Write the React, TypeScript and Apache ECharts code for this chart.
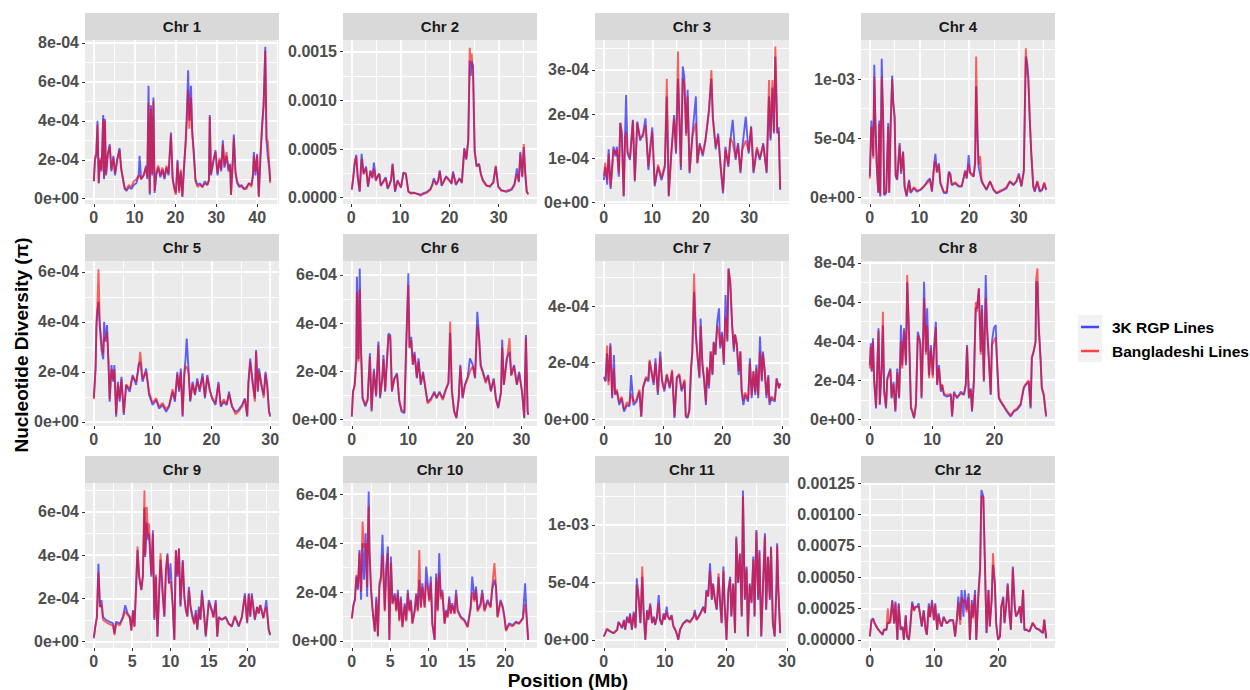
import { useEffect, useRef } from "react";
import * as echarts from "echarts";

// Nucleotide diversity (pi) along each rice chromosome.
// Positions are in Mb; diversity values are in units of 1e-5.

const chr1Pos = [0, 0.3, 0.6, 0.9, 1.2, 1.5, 1.9, 2.3, 2.5, 2.7, 3.0, 3.4, 3.9, 4.3, 4.8, 5.2, 5.7, 6.3, 6.7, 7.2, 7.6, 8.0, 8.6, 9.2, 9.8, 10.4, 11.0, 11.2, 11.6, 12.2, 12.8, 13.1, 13.4, 13.7, 14.0, 14.3, 14.6, 14.9, 15.3, 15.8, 16.3, 16.8, 17.3, 17.8, 18.3, 18.9, 19.3, 19.7, 20.1, 20.5, 20.9, 21.3, 21.7, 22.1, 22.5, 22.8, 23.1, 23.4, 23.8, 24.1, 24.5, 24.9, 25.4, 26.0, 26.6, 27.2, 27.8, 28.2, 28.4, 28.7, 29.2, 29.8, 30.3, 30.8, 31.2, 31.6, 32.0, 32.5, 33.0, 33.4, 33.6, 34.0, 34.3, 34.7, 35.1, 35.6, 36.2, 36.8, 37.4, 38.0, 38.6, 39.0, 39.2, 39.6, 40.0, 40.4, 40.8, 41.2, 41.6, 42.0, 42.3, 42.6, 43.0, 43.2];
const chr1Rgp = [9, 20, 22, 40, 8, 20, 14, 43, 10, 41, 12, 22, 28, 14, 22, 12, 20, 26, 16, 9, 5, 4, 6, 5, 7, 8, 12, 22, 10, 12, 17, 10, 58, 2, 48, 12, 52, 3, 12, 16, 11, 15, 10, 16, 12, 34, 10, 6, 3, 20, 4, 14, 1, 16, 30, 45, 66, 40, 58, 35, 24, 10, 7, 8, 6, 9, 7, 10, 43, 12, 18, 25, 12, 20, 14, 30, 16, 22, 14, 18, 2, 18, 33, 14, 8, 6, 7, 5, 6, 8, 7, 12, 24, 12, 23, 1, 20, 37, 49, 78, 30, 22, 15, 9];
const chr1Bd = [9, 22, 23, 38, 8, 21, 15, 41, 11, 40, 13, 23, 27, 15, 21, 13, 19, 25, 15, 10, 5, 5, 7, 6, 9, 10, 12, 12, 10, 12, 16, 11, 49, 3, 46, 13, 50, 4, 14, 17, 12, 16, 11, 17, 13, 33, 11, 5, 2, 19, 3, 15, 1, 17, 28, 40, 56, 36, 52, 33, 22, 9, 6, 7, 6, 8, 7, 9, 42, 13, 19, 24, 13, 21, 15, 28, 17, 24, 15, 17, 2, 17, 31, 13, 9, 7, 6, 5, 5, 8, 6, 13, 22, 14, 22, 1, 22, 36, 48, 76, 30, 30, 17, 8];

const chr2Pos = [0.1, 0.4, 0.7, 1.0, 1.3, 1.7, 2.1, 2.5, 3.0, 3.4, 3.9, 4.3, 4.6, 5.0, 5.4, 5.7, 6.0, 6.4, 7.0, 7.4, 7.7, 8.1, 8.4, 8.9, 9.4, 10.1, 10.6, 11.1, 11.6, 12.1, 12.8, 13.4, 14.1, 14.8, 15.4, 16.1, 16.5, 16.8, 17.3, 17.7, 18.0, 18.4, 18.7, 19.3, 20.0, 20.4, 20.7, 21.3, 22.0, 22.5, 23.0, 23.4, 23.8, 24.1, 24.3, 24.5, 24.8, 25.1, 25.5, 26.0, 26.4, 26.8, 27.5, 28.2, 28.9, 29.4, 29.9, 30.5, 31.5, 32.6, 33.2, 33.7, 34.1, 34.4, 34.8, 35.1, 35.4, 35.7, 36.0];
const chr2Rgp = [8, 20, 35, 44, 21, 6, 45, 25, 32, 11, 28, 20, 36, 18, 22, 25, 12, 16, 21, 9, 13, 18, 35, 6, 18, 10, 26, 25, 6, 5, 5, 4, 3, 5, 6, 9, 14, 20, 13, 18, 28, 12, 16, 22, 18, 14, 27, 13, 20, 15, 51, 39, 59, 141, 125, 140, 135, 49, 32, 35, 24, 18, 13, 11, 16, 32, 11, 8, 6, 8, 13, 30, 16, 47, 21, 52, 25, 6, 4];
const chr2Bd = [9, 22, 38, 42, 22, 7, 40, 24, 30, 12, 27, 21, 30, 17, 23, 24, 13, 15, 20, 10, 12, 19, 34, 7, 17, 11, 25, 24, 7, 4, 5, 4, 2, 4, 5, 8, 13, 18, 14, 17, 27, 13, 15, 21, 17, 15, 25, 14, 19, 16, 50, 40, 58, 154, 140, 148, 120, 47, 33, 34, 23, 17, 12, 12, 15, 33, 12, 7, 7, 9, 14, 24, 17, 45, 22, 55, 26, 7, 3];

const chr3Pos = [0, 0.3, 0.7, 1.0, 1.4, 1.7, 2.0, 2.4, 2.7, 3.1, 3.4, 3.7, 4.1, 4.4, 4.6, 4.9, 5.4, 6.0, 6.4, 6.9, 7.5, 8.1, 8.6, 9.2, 9.6, 10.0, 10.5, 11.2, 11.9, 12.6, 13.0, 13.4, 13.9, 14.5, 14.9, 15.3, 15.6, 15.9, 16.3, 16.6, 17.0, 17.3, 17.7, 18.3, 19.0, 19.3, 19.8, 20.4, 21.0, 21.7, 22.2, 22.5, 23.1, 23.6, 24.1, 24.6, 25.1, 25.7, 26.1, 26.6, 27.2, 27.7, 28.2, 28.6, 29.3, 29.9, 30.4, 30.9, 31.6, 32.2, 32.9, 33.6, 34.1, 34.4, 34.8, 35.1, 35.4, 35.8, 36.1, 36.4];
const chr3Rgp = [5, 8, 4, 12, 3, 8, 12.6, 10.4, 12.6, 5.8, 18, 16, 1.3, 16, 24.3, 11, 9.6, 18.7, 4.7, 18.3, 14, 15.6, 19, 7.3, 12.6, 17, 3.6, 8, 5, 8, 24, 1.3, 10.4, 19.8, 11, 28, 19.4, 7.3, 30.8, 28.5, 15.6, 25.5, 6.6, 15.6, 24, 8.8, 13.4, 10.4, 14, 21, 28, 19.4, 12, 15.6, 8, 2, 12.6, 8, 14, 18.7, 9.6, 13.4, 6.6, 12.6, 19.4, 11, 17.2, 6.6, 12, 9.6, 13.4, 6.6, 24, 14, 26, 15.6, 33, 15.6, 17, 2.8];
const chr3Bd = [6, 9, 5, 11, 3.5, 7, 12, 11, 12, 6.5, 18, 15, 1.5, 15, 16, 11.5, 10, 18.5, 5, 18, 14.5, 15, 17.5, 8, 12, 16, 4, 8.5, 5.5, 8.5, 28, 1.5, 11, 19, 11.5, 34.2, 18, 8, 28, 27, 15, 24, 7, 15, 18, 9, 13, 11, 14.5, 20.5, 30, 19, 12.5, 15, 8.5, 2.5, 12, 8.5, 14.5, 13.5, 10, 13, 7, 12, 14, 11.5, 17, 7, 12.5, 10, 13, 7, 27.7, 14.5, 27.7, 16, 35.3, 16, 16, 3];

const chr4Pos = [0, 0.3, 0.7, 0.9, 1.1, 1.4, 1.7, 1.9, 2.1, 2.4, 2.7, 2.9, 3.3, 3.7, 3.9, 4.2, 4.5, 4.7, 5.0, 5.2, 5.5, 6.0, 6.3, 6.7, 7.0, 7.4, 7.9, 8.2, 8.9, 9.5, 10.2, 10.9, 11.5, 12.1, 12.5, 13.0, 13.2, 13.5, 13.9, 14.2, 14.9, 15.5, 15.9, 16.2, 16.5, 17.2, 17.9, 18.5, 19.2, 19.5, 19.9, 20.2, 20.5, 20.9, 21.2, 21.4, 21.7, 21.9, 22.2, 22.5, 22.9, 23.5, 24.2, 24.9, 25.5, 26.2, 26.9, 27.5, 28.2, 28.9, 29.5, 30.0, 30.5, 31.0, 31.2, 31.4, 31.7, 31.9, 32.2, 32.5, 32.9, 33.2, 33.7, 34.2, 34.7, 35.1, 35.5];
const chr4Rgp = [18, 65, 35, 112, 68, 26, 4, 65, 1, 117, 63, 2, 4, 63, 4, 63, 103, 82, 68, 18, 15, 46, 20, 39, 9, 1, 15, 4, 8, 5, 6.5, 9.3, 13.5, 16.3, 5, 30, 37, 22, 29, 12, 4, 4, 22, 20.5, 10.7, 12, 9.3, 9.3, 23, 16, 36, 20.5, 20.5, 17.7, 29, 94, 48.6, 26, 20, 13.5, 10.7, 6.5, 13.5, 6.5, 3.7, 5, 6.5, 7.9, 13.5, 10.7, 13.5, 20.5, 9.3, 23, 74, 119, 113, 102, 65, 37, 9.3, 5, 13.5, 5, 6.5, 12, 6.5];
const chr4Bd = [16, 60, 33, 102, 66, 28, 5, 62, 2, 102, 60, 3, 5, 60, 5, 60, 100, 80, 66, 19, 16, 44, 22, 38, 10, 2, 14, 5, 9, 6, 7, 10, 12, 15, 6, 30, 30, 21, 27, 13, 5, 5, 21, 19, 11, 13, 10, 10, 22, 17, 28, 21, 19, 18, 31, 119, 50, 28, 35, 15, 11, 7, 14, 7, 4, 6, 7, 9, 14, 11, 14, 19, 10, 22, 72, 126, 105, 100, 66, 38, 10, 6, 14, 6, 7, 13, 7];

const chr5Pos = [0, 0.3, 0.45, 0.6, 0.8, 1.0, 1.3, 1.6, 1.75, 2.0, 2.25, 2.5, 2.7, 3.0, 3.3, 3.5, 3.8, 4.1, 4.4, 4.7, 5.1, 5.5, 6.1, 6.6, 7.2, 7.6, 7.9, 8.3, 8.9, 9.4, 10.0, 10.6, 11.1, 11.7, 12.3, 12.8, 13.4, 13.8, 14.2, 14.5, 14.8, 15.1, 15.4, 15.6, 15.8, 16.1, 16.4, 16.8, 17.2, 17.6, 18.0, 18.5, 18.9, 19.3, 19.7, 20.1, 20.7, 21.2, 21.6, 22.1, 22.6, 23.0, 23.5, 24.1, 24.6, 25.2, 25.7, 26.1, 26.3, 26.6, 27.0, 27.4, 27.6, 27.9, 28.1, 28.5, 28.9, 29.2, 29.5, 29.8, 30.0];
const chr5Rgp = [9.6, 21, 38, 44, 48, 38.7, 29, 25, 40, 32, 38.7, 22.7, 8, 22.7, 16, 22.7, 2, 16, 8, 18, 2.7, 14.7, 12, 18.7, 14.7, 22.7, 24, 16, 21.3, 10.7, 6.7, 8.7, 5.3, 6.7, 4, 6, 12, 8, 20, 12, 21.3, 2, 20, 25, 33.3, 21.3, 8, 16, 10.7, 17.3, 12, 19.3, 9.3, 18.7, 13.3, 9.3, 6.7, 16, 6, 8, 6.7, 12, 6, 4, 4.7, 6.7, 9.3, 2, 16, 25.3, 16, 9.3, 28.7, 12, 21.3, 14.7, 10.7, 20, 14.7, 4, 2];
const chr5Bd = [9, 22, 40, 46, 61, 40, 32, 27, 33, 34, 36, 24, 9, 21, 17, 21, 3, 15, 9, 17, 3.5, 15, 13, 18, 16, 21, 28, 17, 20, 12, 7.5, 9.5, 6, 7.5, 5, 6.5, 13, 9, 19, 13, 20, 2.5, 19, 22, 22, 20, 8.5, 15, 11, 16, 13, 18, 10, 18, 12.5, 10, 7.5, 15, 6.5, 9, 7, 11, 6.5, 3, 4, 6, 9, 2.5, 15, 24, 16, 8, 28, 12.5, 20, 15, 9.5, 19, 14, 4.5, 2.5];

const chr6Pos = [0, 0.2, 0.5, 0.8, 0.9, 1.2, 1.4, 1.6, 1.9, 2.4, 2.8, 3.2, 3.5, 3.9, 4.3, 4.7, 5.0, 5.4, 5.6, 5.9, 6.2, 6.5, 6.8, 7.1, 7.5, 8.0, 8.4, 8.8, 9.3, 9.6, 10.0, 10.2, 10.5, 10.8, 11.1, 11.5, 11.8, 12.2, 12.6, 13.0, 13.4, 14.0, 14.6, 15.0, 15.5, 16.1, 16.6, 17.1, 17.4, 17.7, 18.1, 18.5, 18.9, 19.2, 19.6, 20.0, 20.5, 20.9, 21.4, 21.8, 22.2, 22.5, 22.8, 23.2, 23.7, 24.1, 24.6, 25.1, 25.5, 25.9, 26.4, 26.6, 26.9, 27.4, 27.9, 28.2, 28.7, 29.2, 29.6, 30.1, 30.5, 30.8, 31.1, 31.2];
const chr6Rgp = [1, 11.5, 14.3, 25, 59.3, 25, 62.7, 32, 8.7, 5.3, 8, 27.4, 3.2, 21, 9.4, 32.3, 8.7, 17.7, 26.7, 11.5, 24, 35.7, 35, 11.5, 17, 19.1, 7.3, 3.2, 2.5, 29.5, 60.7, 29.5, 34.3, 22.6, 28, 17, 25.3, 14.3, 19.8, 12.9, 7.3, 8.7, 11.5, 8.7, 11.5, 8.7, 12.2, 15, 36, 11.5, 3.2, 0.4, 8.7, 22.6, 8.7, 14.3, 17.7, 25.3, 22.6, 17, 44.7, 35, 22.6, 19.8, 15.7, 18.4, 11.5, 17, 8.7, 4.6, 11.5, 33, 14.3, 25.3, 28, 18.4, 22.6, 14.3, 19.8, 11.5, 0.4, 35, 3.2, 1.8];
const chr6Bd = [1.5, 11, 14, 24, 53, 24, 54, 30, 9, 6, 8.5, 26, 4, 20, 10, 31, 9.5, 17, 25, 12, 23, 35, 34, 12, 16.5, 18.5, 8, 4, 3, 28, 55.8, 30, 33, 23, 27, 17.5, 24, 15, 19, 13.5, 6.5, 8, 11, 9, 11, 8, 12, 15.5, 40.6, 12, 3.5, 0.8, 8, 22, 9, 14, 17, 20, 22, 17.5, 39, 34, 22, 19, 15, 18, 12, 16.5, 8, 5, 11, 30, 14.5, 24, 33.7, 18, 22, 14.5, 19, 12, 0.8, 34, 3.5, 2];

const chr7Pos = [0, 0.3, 0.55, 0.8, 1.1, 1.4, 1.7, 1.9, 2.2, 2.6, 3.0, 3.4, 3.9, 4.3, 4.6, 5.0, 5.5, 6.0, 6.3, 6.6, 7.1, 7.5, 7.7, 8.0, 8.4, 8.7, 9.1, 9.5, 9.8, 10.2, 10.6, 11.1, 11.5, 11.9, 12.3, 12.7, 13.1, 13.6, 13.8, 14.1, 14.4, 14.7, 14.9, 15.2, 15.5, 15.8, 16.1, 16.3, 16.6, 16.9, 17.2, 17.4, 17.7, 18.0, 18.3, 18.5, 18.8, 19.1, 19.4, 19.6, 19.9, 20.2, 20.5, 20.8, 21.0, 21.3, 21.6, 21.9, 22.1, 22.4, 22.7, 23.0, 23.2, 23.5, 23.8, 24.3, 24.6, 24.9, 25.2, 25.5, 25.7, 26.0, 26.3, 26.6, 26.8, 27.1, 27.4, 27.7, 27.9, 28.2, 28.8, 29.1, 29.5, 29.7];
const chr7Rgp = [15, 13.3, 23.3, 13.3, 26.8, 7.4, 22.7, 8.6, 9.8, 5, 7.4, 2.7, 5, 4.5, 15.6, 5, 6.2, 9.8, 0.9, 10.9, 14.5, 13.3, 20.4, 16.8, 12.1, 21.5, 8.6, 23.9, 13.3, 9.8, 15.6, 10.9, 16.8, 0.4, 14.5, 15.6, 9.8, 13.3, 0.9, 0.4, 2.7, 18, 23.9, 45, 29.8, 21.5, 14.5, 35.6, 19.2, 13.3, 5, 18, 10.9, 23.9, 15.6, 27.4, 22.7, 34.5, 39.2, 25, 30.9, 19.2, 43.9, 27.4, 53.3, 47.4, 33.3, 23.9, 29.8, 26.2, 15.6, 23.9, 9.8, 5, 8.6, 6.2, 21.5, 7.4, 16.8, 8.6, 19.2, 7.4, 29.2, 13.3, 23.9, 16.8, 7.4, 15.6, 5, 7.4, 6.2, 14.5, 10.9, 12.7];
const chr7Bd = [14, 14, 26, 12, 26, 8, 18, 9, 10.5, 6, 8, 3.5, 6, 5, 9, 6, 7, 10.5, 1, 11.5, 15, 14, 21, 17.5, 13, 20, 9.5, 22, 14, 10.5, 16, 11.5, 17.5, 1, 15, 16, 10.5, 14, 1.2, 0.8, 3.5, 18.5, 23, 51.5, 30, 22, 15, 33, 20, 14, 6, 18.5, 12, 24, 16, 27, 23, 33, 30, 26, 30, 20, 36, 28, 53, 49, 34, 25, 30, 27, 17, 24, 11, 6.5, 9.5, 7, 20, 8.5, 17, 9.5, 18, 8.5, 24, 14, 23, 17, 8.5, 15, 6, 8, 7, 14, 11, 12.5];

const chr8Pos = [0, 0.15, 0.3, 0.5, 0.7, 1.0, 1.2, 1.4, 1.6, 1.9, 2.1, 2.3, 2.6, 2.8, 3.3, 3.5, 3.8, 4.1, 4.4, 4.7, 5.0, 5.2, 5.5, 5.8, 6.0, 6.3, 6.6, 6.8, 7.1, 7.4, 7.7, 8.1, 8.3, 8.6, 8.7, 9.0, 9.2, 9.5, 9.8, 10.1, 10.3, 10.6, 10.8, 11.1, 11.4, 11.6, 11.9, 12.4, 13.0, 13.2, 13.5, 14.0, 14.6, 15.1, 15.4, 15.6, 15.9, 16.2, 16.4, 16.7, 17.0, 17.2, 17.5, 17.8, 18.0, 18.3, 18.6, 18.8, 19.1, 19.4, 19.6, 19.9, 20.2, 20.4, 20.7, 21.0, 21.5, 22.0, 22.6, 23.1, 23.6, 24.2, 24.7, 25.0, 25.5, 25.8, 26.0, 26.3, 26.6, 26.7, 26.9, 27.1, 27.4, 27.6, 27.9, 28.2, 28.3];
const chr8Rgp = [27.7, 38.8, 24.3, 41.4, 19.2, 5.6, 27.7, 46.5, 7.3, 26, 48, 14, 5.6, 21, 26, 10.7, 19.2, 3.9, 26, 10.7, 48.2, 27.7, 46.5, 27.7, 70, 43.1, 5.6, 3.9, 0.5, 7.3, 44.8, 39.7, 10.7, 48.2, 70.3, 34.6, 56.7, 22.6, 38, 22.6, 36.3, 49.9, 17.5, 27.7, 14.1, 17.5, 12.4, 11.6, 12.4, 1.4, 14.1, 10.7, 14.1, 12.4, 17.5, 38, 10.7, 15.8, 3.9, 19.2, 57, 56.7, 66.9, 34.6, 58.4, 19.2, 73.7, 48.2, 31.1, 12.4, 39.7, 46.5, 48.2, 31.1, 10.7, 9, 6.5, 3.9, 1.4, 3.9, 4.8, 7.3, 15.8, 17.5, 19.2, 5.6, 31.1, 34.6, 39.7, 70.3, 70, 48.2, 31.1, 15.8, 12.4, 3.9, 1.4];
const chr8Bd = [26, 37, 25, 40, 20, 6.5, 26, 45, 8, 27, 55, 15, 6.5, 20, 25, 11.5, 18, 4.5, 24, 11.5, 40, 26, 45, 29, 73.7, 42, 6.5, 4.5, 1, 8, 43, 38, 11.5, 46, 62, 33, 48, 21, 36, 21, 35, 47, 18, 26, 15, 18, 13, 12.5, 13, 2, 13, 11.5, 13, 13, 18, 37, 11.5, 15, 4.5, 20, 60, 55, 66.9, 33, 56, 20, 62, 46, 30, 13, 38, 40, 42, 30, 11.5, 9.5, 7, 4.5, 2, 4.5, 5.5, 8, 16.5, 18, 20, 6.5, 32, 35, 40, 72, 77.1, 47, 30, 16.5, 13, 4.5, 2];

const chr9Pos = [0, 0.2, 0.4, 0.6, 0.8, 1.0, 1.2, 1.6, 2.1, 2.5, 2.7, 2.9, 3.4, 3.8, 4.1, 4.4, 4.7, 4.9, 5.1, 5.3, 5.5, 5.7, 5.9, 6.2, 6.4, 6.6, 6.7, 6.9, 7.1, 7.2, 7.5, 7.7, 7.9, 8.1, 8.3, 8.5, 8.7, 9.0, 9.2, 9.4, 9.6, 9.8, 10.0, 10.3, 10.5, 10.7, 10.9, 11.1, 11.3, 11.6, 11.8, 12.0, 12.2, 12.4, 12.6, 12.8, 13.1, 13.3, 13.5, 13.7, 13.9, 14.1, 14.4, 14.6, 15.0, 15.4, 15.6, 15.9, 16.1, 16.3, 16.7, 17.2, 17.6, 18.0, 18.4, 18.9, 19.3, 19.7, 20.0, 20.2, 20.4, 20.6, 20.8, 21.0, 21.3, 21.5, 21.7, 21.9, 22.1, 22.3, 22.5, 22.8, 23.0];
const chr9Rgp = [1.5, 7, 11.5, 36, 16, 19.2, 11.5, 10, 9.2, 8.5, 3.8, 9.2, 8.5, 11.5, 16.9, 13, 11.5, 5.4, 14.6, 6.9, 23.8, 42.3, 30, 23.8, 30, 62, 39.2, 55, 46.9, 50, 30, 51.5, 10, 30, 2.3, 20.8, 38, 20.8, 11.5, 33, 40.8, 26.9, 36.2, 16.2, 0.8, 42.3, 30, 43, 16.2, 37.7, 20.8, 14.6, 11.5, 25.4, 16.2, 13, 8.5, 14.6, 5.4, 16.2, 10, 23.8, 11.5, 2.3, 19.2, 14.6, 11.5, 19.2, 2.3, 11.5, 10, 11.5, 8.5, 6.9, 11.5, 6.9, 11.5, 22.3, 8.5, 22.3, 11.5, 22.3, 16.2, 10, 16.2, 13, 16.9, 14.6, 10.8, 14.6, 19.2, 5.4, 3];
const chr9Bd = [2, 7.5, 11, 32, 16, 17, 10, 9, 8, 7.5, 3, 8.5, 7.5, 11, 14, 12.5, 11, 5, 14, 7, 24, 44, 31, 24, 31, 70, 40, 62.3, 48, 54.6, 31, 50, 11, 31, 2.5, 22, 40.8, 22, 12, 32, 40, 27, 28, 16, 1, 42, 31, 43, 17, 37, 21, 15, 12, 24, 17, 12, 8, 13, 6, 15, 10.5, 22, 12, 3, 18, 14, 11, 18, 2.5, 11, 10.5, 11, 8, 7.5, 12, 7.5, 11, 21, 9, 22, 12, 21, 16, 10.5, 16, 13, 17, 14, 11, 14, 16, 6, 3.5];

const chr10Pos = [0, 0.2, 0.4, 0.6, 0.8, 1.0, 1.2, 1.4, 1.6, 1.8, 2.0, 2.1, 2.2, 2.3, 2.5, 2.7, 3.0, 3.2, 3.4, 3.6, 3.8, 4.0, 4.3, 4.5, 4.7, 4.9, 5.1, 5.3, 5.6, 5.8, 6.0, 6.2, 6.4, 6.6, 6.9, 7.1, 7.3, 7.5, 7.7, 7.9, 8.2, 8.4, 8.6, 8.8, 9.0, 9.2, 9.5, 9.7, 9.9, 10.1, 10.3, 10.5, 10.8, 11.0, 11.2, 11.4, 11.6, 11.8, 12.1, 12.3, 12.5, 12.7, 12.9, 13.1, 13.4, 13.6, 13.8, 14.2, 14.7, 15.1, 15.5, 15.7, 16.0, 16.2, 16.4, 16.8, 17.0, 17.3, 17.7, 18.1, 18.3, 18.6, 18.8, 19.0, 19.4, 19.7, 19.9, 20.1, 20.5, 21.0, 21.4, 21.8, 22.3, 22.6, 22.8, 23.0];
const chr10Rgp = [9.3, 14.7, 16.8, 26.3, 20.9, 37.2, 16.8, 40, 25, 44, 18.1, 41.3, 61.1, 37.2, 20.9, 12.7, 3.8, 18.1, 1.8, 23.6, 26.3, 43.4, 12.7, 30.4, 38.6, 0.4, 34.5, 15.4, 19.5, 12.7, 20.9, 8.6, 18.1, 5.9, 15.4, 8.6, 20.9, 12.7, 16.8, 7.2, 12.7, 19.5, 12.7, 25, 14, 23.6, 14, 30.4, 23.6, 16.8, 26.3, 7.2, 0.4, 27.6, 12.7, 35.9, 18.1, 20.9, 7.2, 12.7, 10, 18.1, 11.3, 15.4, 11.3, 20.9, 12.7, 10, 8.6, 5.9, 14, 26.3, 16.8, 22.2, 12.7, 15.4, 20.9, 12.7, 16.8, 14, 20.9, 25, 22.2, 10, 16.8, 14, 10, 4.5, 7.2, 6.5, 7.9, 7.2, 9.3, 23.6, 10, 0.4];
const chr10Bd = [9, 14, 17, 27, 22, 36, 20, 48.8, 38, 40, 22, 44, 55, 38, 22, 13, 4, 17, 2, 22, 25, 35, 12, 29, 36, 0.5, 32, 15, 18.5, 12, 19.5, 8, 17, 5.5, 14.5, 8, 19.5, 12, 16, 7, 12, 18.5, 12, 37.2, 13.5, 22, 13.5, 24, 21, 16, 24, 7, 0.5, 26, 12, 28, 17, 20, 7, 12, 9.5, 17, 11, 14.5, 11, 19, 12, 9.5, 8, 5.5, 13, 20, 16, 21, 12, 14.5, 19.5, 12, 16, 13.5, 22, 31.8, 22.2, 9.5, 16, 13, 9.5, 4, 6.5, 6, 7.5, 7, 9, 15, 9.5, 0.5];

const chr11Pos = [0, 0.5, 1.1, 1.6, 2.2, 2.4, 2.7, 3.0, 3.3, 3.5, 3.8, 4.1, 4.3, 4.6, 4.9, 5.2, 5.4, 5.7, 6.0, 6.3, 6.5, 6.8, 7.1, 7.3, 7.6, 7.9, 8.2, 8.4, 8.7, 9.0, 9.2, 9.5, 9.8, 10.0, 10.3, 10.5, 10.8, 11.1, 11.4, 11.7, 12.0, 12.2, 12.5, 13.0, 13.6, 14.1, 14.7, 14.9, 15.2, 15.8, 16.3, 16.6, 16.8, 17.1, 17.4, 17.7, 17.9, 18.2, 18.5, 18.8, 19.0, 19.3, 19.6, 19.8, 20.1, 20.4, 20.7, 20.9, 21.2, 21.5, 21.7, 22.0, 22.3, 22.6, 22.8, 23.1, 23.4, 23.6, 23.9, 24.2, 24.5, 24.7, 25.0, 25.3, 25.5, 25.8, 26.1, 26.4, 26.6, 26.9, 27.2, 27.4, 27.7, 28.0, 28.3, 28.4, 28.6, 28.9];
const chr11Rgp = [2.9, 8.7, 7.2, 5.8, 8.7, 15.9, 13, 10.1, 17.4, 8.7, 20.3, 14.5, 23.2, 8.7, 24.6, 10.1, 53.6, 37.7, 14.5, 55, 26.1, 0, 26.1, 17.4, 31.9, 14.5, 20.3, 13, 20.3, 39.1, 17.4, 13, 23.2, 17.4, 29, 20.3, 17.4, 21.7, 11.6, 8.7, 4.3, 0, 8.7, 14.5, 17.4, 15.9, 20.3, 26.1, 17.4, 23.2, 29, 23.2, 43.5, 37.7, 66.7, 34.8, 49.3, 34.8, 26.1, 55, 37.7, 14.5, 63.8, 31.9, 0, 40.6, 55, 20.3, 49.3, 5.8, 89.9, 49.3, 75.4, 20.3, 130, 34.8, 63.8, 2.9, 49.3, 31.9, 72.5, 20.3, 95.7, 34.8, 78.3, 2.9, 49.3, 92.8, 26.1, 72.5, 34.8, 81.2, 14.5, 2.9, 49.3, 84.1, 43.5, 5.8];
const chr11Bd = [3, 10, 7.5, 6, 9.5, 15, 13.5, 11, 16.5, 9.5, 19, 15, 22, 9.5, 23, 11, 48, 36, 15, 63.8, 27, 0.5, 25, 18, 30, 15, 19, 13.5, 19.5, 32, 18, 13.5, 22, 18, 24, 20, 18, 21, 12.5, 9.5, 5, 0.5, 9.5, 14, 16.5, 15, 19.5, 24, 17.5, 22, 28, 24, 42, 38, 60, 36, 48, 36, 27, 58, 36, 15, 60, 32, 0.5, 44, 53, 21, 48, 6.5, 88, 50, 74, 21, 125, 36, 62, 3.5, 48, 33, 70, 21, 94, 36, 76, 3.5, 48, 90, 27, 72, 36, 80, 15, 3.5, 48, 82, 44, 6.5];

const chr12Pos = [0, 0.26, 0.5, 0.77, 1.2, 1.6, 2.0, 2.2, 2.6, 2.8, 3.0, 3.2, 3.5, 3.8, 4.0, 4.3, 4.5, 4.8, 5.1, 5.3, 5.6, 5.8, 6.1, 6.3, 6.6, 6.9, 7.1, 7.4, 7.6, 7.9, 8.1, 8.4, 8.7, 8.9, 9.2, 9.4, 9.7, 10.0, 10.2, 10.5, 10.7, 11.0, 11.2, 11.5, 12.0, 12.5, 13.0, 13.3, 13.6, 13.8, 14.1, 14.3, 14.6, 14.8, 15.1, 15.4, 15.6, 15.9, 16.1, 16.4, 16.6, 16.9, 17.2, 17.4, 17.7, 17.9, 18.2, 18.5, 18.7, 19.0, 19.2, 19.5, 19.7, 20.0, 20.3, 20.5, 20.8, 21.0, 21.3, 21.5, 21.8, 22.0, 22.3, 22.6, 22.8, 23.1, 23.4, 23.6, 23.9, 24.1, 24.4, 24.9, 25.4, 25.9, 26.4, 27.0, 27.2, 27.5];
const chr12Rgp = [2.7, 16, 17.3, 13.3, 9.3, 6.6, 4, 8, 8, 14, 13.3, 16, 31.9, 13.3, 30.6, 0, 29.3, 8, 10.6, 0, 19.9, 2.7, 0, 10.6, 30.6, 23.9, 26.6, 26.6, 29.3, 18.6, 10.6, 23.9, 8, 4, 29.3, 18.6, 31.9, 16, 29.3, 8, 21.3, 13.3, 10.6, 18.6, 13.3, 16, 16, 2.7, 18.6, 34.6, 16, 39.9, 18.6, 39.9, 23.9, 37.2, 0, 31.9, 18.6, 39.9, 0, 34.6, 58.5, 119.7, 114.4, 71.8, 5.3, 39.9, 10.6, 31.9, 60, 45.2, 13.3, 0, 2.7, 26.6, 34.6, 13.3, 29.3, 45.2, 18.6, 8, 58.5, 26.6, 18.6, 21.3, 26.6, 13.3, 39.9, 8, 8, 6.6, 13.3, 9.3, 8, 5.3, 16, 1.3];
const chr12Bd = [3, 15, 16.5, 13, 9, 6.5, 4.5, 8.5, 8.5, 25.3, 13, 14, 31, 13, 29, 0.5, 28, 8.5, 10, 0.5, 19, 3, 0.5, 10, 29, 23, 26, 26, 27, 18, 11, 23, 8.5, 4.5, 27, 18, 30, 15.5, 28, 8.5, 20, 13, 11, 18, 13, 15.5, 15, 3, 17, 30, 12, 34, 30, 32, 22, 34, 0.5, 29, 17, 36, 0.5, 32, 56, 115, 114, 70, 6, 40, 11, 33, 69.1, 44, 13, 0.5, 3, 27, 33, 14, 29, 44, 19, 8.5, 57, 27, 19, 22, 27, 14, 40, 8.5, 8.5, 7, 14, 9.5, 8.5, 6, 16.5, 1.5];

// Facet titles, axis breaks and y-axis ranges (y in absolute pi units)
const chromosomes = ["Chr 1", "Chr 2", "Chr 3", "Chr 4", "Chr 5", "Chr 6", "Chr 7", "Chr 8", "Chr 9", "Chr 10", "Chr 11", "Chr 12"];
const xBreaks = [
  [0, 10, 20, 30, 40], [0, 10, 20, 30], [0, 10, 20, 30], [0, 10, 20, 30],
  [0, 10, 20, 30], [0, 10, 20, 30], [0, 10, 20, 30], [0, 10, 20],
  [0, 5, 10, 15, 20], [0, 5, 10, 15, 20], [0, 10, 20, 30], [0, 10, 20],
];
const yBreaks = [
  [0, 2e-4, 4e-4, 6e-4, 8e-4], [0, 5e-4, 1e-3, 1.5e-3], [0, 1e-4, 2e-4, 3e-4], [0, 5e-4, 1e-3],
  [0, 2e-4, 4e-4, 6e-4], [0, 2e-4, 4e-4, 6e-4], [0, 2e-4, 4e-4], [0, 2e-4, 4e-4, 6e-4, 8e-4],
  [0, 2e-4, 4e-4, 6e-4], [0, 2e-4, 4e-4, 6e-4], [0, 5e-4, 1e-3], [0, 2.5e-4, 5e-4, 7.5e-4, 1e-3, 1.25e-3],
];
const yLimits = [
  [-0.27e-4, 8.15e-4], [-0.065e-3, 1.62e-3], [-0.04e-4, 3.68e-4], [-0.053e-3, 1.329e-3],
  [-0.17e-4, 6.43e-4], [-0.28e-4, 6.58e-4], [-0.24e-4, 5.59e-4], [-0.34e-4, 8.09e-4],
  [-0.29e-4, 7.33e-4], [-0.29e-4, 6.46e-4], [-0.07e-3, 1.365e-3], [-0.064e-3, 1.252e-3],
];
// decimal places for fixed-notation axes; null means scientific notation
const yDecimals = [null, 4, null, null, null, null, null, null, null, null, null, 5];

const seriesNames = ["3K RGP Lines", "Bangladeshi Lines"];

const positions = [chr1Pos, chr2Pos, chr3Pos, chr4Pos, chr5Pos, chr6Pos, chr7Pos, chr8Pos, chr9Pos, chr10Pos, chr11Pos, chr12Pos];
const rgpValues = [chr1Rgp, chr2Rgp, chr3Rgp, chr4Rgp, chr5Rgp, chr6Rgp, chr7Rgp, chr8Rgp, chr9Rgp, chr10Rgp, chr11Rgp, chr12Rgp];
const bdValues = [chr1Bd, chr2Bd, chr3Bd, chr4Bd, chr5Bd, chr6Bd, chr7Bd, chr8Bd, chr9Bd, chr10Bd, chr11Bd, chr12Bd];

const FONT = '"Liberation Sans", Arial, Helvetica, sans-serif';
const BLUE = "rgba(0, 0, 255, 0.6)";
const RED = "rgba(255, 0, 0, 0.6)";
const COL_LEFT = [85, 343, 595, 861];
const PANEL_W = 194;
const ROW_TOP = [40, 261, 483];
const ROW_H = [164, 165, 165];
const STRIP_H = 27;

function sciLabel(v: number): string {
  if (Math.abs(v) < 1e-15) return "0e+00";
  const e = Math.floor(Math.log10(Math.abs(v)) + 1e-9);
  const m = Math.round(v / Math.pow(10, e));
  return `${m}e${e < 0 ? "-" : "+"}${String(Math.abs(e)).padStart(2, "0")}`;
}

function minorBreaks(major: number[], lo: number, hi: number): number[] {
  const step = major[1] - major[0];
  const out: number[] = [];
  for (let k = -1; k <= major.length + 1; k++) {
    const v = major[0] + step * (k + 0.5);
    if (v > lo && v < hi) out.push(v);
  }
  return out;
}

function buildOption() {
  const grid: any[] = [];
  const xAxis: any[] = [];
  const yAxis: any[] = [];
  const series: any[] = [];
  const graphic: any[] = [];

  const tickLabel = { fontFamily: FONT, fontSize: 16, fontWeight: "bold", color: "#4D4D4D" };

  chromosomes.forEach((name, i) => {
    const col = i % 4;
    const row = Math.floor(i / 4);
    const left = COL_LEFT[col];
    const top = ROW_TOP[row];
    const height = ROW_H[row];
    const pos = positions[i];
    const span = pos[pos.length - 1] - pos[0];
    const xMin = pos[0] - 0.05 * span;
    const xMax = pos[pos.length - 1] + 0.05 * span;
    const [yMin, yMax] = yLimits[i];
    const dec = yDecimals[i];

    grid.push({ left, top, width: PANEL_W, height, show: true, backgroundColor: "#EBEBEB", borderWidth: 0, borderColor: "transparent" });

    xAxis.push({
      type: "value", gridIndex: i, min: xMin, max: xMax, position: "bottom",
      axisLine: { show: false, onZero: false },
      axisTick: { show: true, length: 3, customValues: xBreaks[i], lineStyle: { color: "#333333", width: 1 } },
      axisLabel: { ...tickLabel, margin: 5, customValues: xBreaks[i] },
      splitLine: { show: true, lineStyle: { color: "#FFFFFF", width: 1.8 } },
    });
    xAxis.push({
      type: "value", gridIndex: i, min: xMin, max: xMax, position: "top",
      axisLine: { show: false, onZero: false },
      axisTick: { show: false, customValues: minorBreaks(xBreaks[i], xMin, xMax) },
      axisLabel: { show: false },
      splitLine: { show: true, lineStyle: { color: "#FFFFFF", width: 0.9 } },
    });
    yAxis.push({
      type: "value", gridIndex: i, min: yMin, max: yMax, position: "left",
      axisLine: { show: false, onZero: false },
      axisTick: { show: true, length: 3, customValues: yBreaks[i], lineStyle: { color: "#333333", width: 1 } },
      axisLabel: {
        ...tickLabel, margin: 6, customValues: yBreaks[i],
        formatter: (v: number) => (dec == null ? sciLabel(v) : v.toFixed(dec)),
      },
      splitLine: { show: true, lineStyle: { color: "#FFFFFF", width: 1.8 } },
    });
    yAxis.push({
      type: "value", gridIndex: i, min: yMin, max: yMax, position: "right",
      axisLine: { show: false, onZero: false },
      axisTick: { show: false, customValues: minorBreaks(yBreaks[i], yMin, yMax) },
      axisLabel: { show: false },
      splitLine: { show: true, lineStyle: { color: "#FFFFFF", width: 0.9 } },
    });

    const n = Math.min(pos.length, rgpValues[i].length, bdValues[i].length);
    const rgp = [] as number[][];
    const bd = [] as number[][];
    for (let k = 0; k < n; k++) {
      rgp.push([pos[k], rgpValues[i][k] * 1e-5]);
      bd.push([pos[k], bdValues[i][k] * 1e-5]);
    }
    series.push({
      type: "line", name: seriesNames[0], xAxisIndex: 2 * i, yAxisIndex: 2 * i, data: rgp,
      showSymbol: false, symbol: "none", silent: true, clip: true,
      lineStyle: { color: BLUE, width: 1.9 }, itemStyle: { color: BLUE },
    });
    series.push({
      type: "line", name: seriesNames[1], xAxisIndex: 2 * i, yAxisIndex: 2 * i, data: bd,
      showSymbol: false, symbol: "none", silent: true, clip: true,
      lineStyle: { color: RED, width: 1.9 }, itemStyle: { color: RED },
    });

    // facet strip
    graphic.push({
      type: "rect", shape: { x: left, y: top - STRIP_H, width: PANEL_W, height: STRIP_H },
      style: { fill: "#D9D9D9" }, silent: true,
    });
    graphic.push({
      type: "text", x: left + PANEL_W / 2, y: top - STRIP_H / 2, silent: true,
      style: {
        text: name, fill: "#1A1A1A", fontFamily: FONT, fontSize: 15, fontWeight: "bold",
        align: "center", verticalAlign: "middle", textAlign: "center", textVerticalAlign: "middle",
      },
    });
  });

  // legend key background
  graphic.push({ type: "rect", shape: { x: 1078, y: 315, width: 24, height: 47 }, style: { fill: "#F2F2F2" }, silent: true, z: -1 });

  // axis titles
  graphic.push({
    type: "text", x: 568, y: 680, silent: true,
    style: {
      text: "Position (Mb)", fill: "#000000", fontFamily: FONT, fontSize: 19, fontWeight: "bold",
      align: "center", verticalAlign: "middle", textAlign: "center", textVerticalAlign: "middle",
    },
  });
  graphic.push({
    type: "text", x: 21, y: 345, rotation: Math.PI / 2, silent: true,
    style: {
      text: "Nucleotide Diversity (\u03c0)", fill: "#000000", fontFamily: FONT, fontSize: 19, fontWeight: "bold",
      align: "center", verticalAlign: "middle", textAlign: "center", textVerticalAlign: "middle",
    },
  });

  return {
    animation: false,
    backgroundColor: "#FFFFFF",
    grid, xAxis, yAxis, series, graphic,
    legend: {
      orient: "vertical", left: 1081, top: 318, padding: 0, itemGap: 6,
      itemWidth: 18, itemHeight: 2.5, icon: "rect", selectedMode: false,
      data: [
        { name: seriesNames[0], itemStyle: { color: "rgba(0, 0, 255, 0.72)" } },
        { name: seriesNames[1], itemStyle: { color: "rgba(255, 0, 0, 0.72)" } },
      ],
      textStyle: { fontFamily: FONT, fontSize: 15.5, fontWeight: "bold", color: "#000000", lineHeight: 18, padding: [0, 0, 0, 8] },
    },
  };
}

export default function App() {
  const ref = useRef<HTMLDivElement>(null);
  useEffect(() => {
    if (!ref.current) return;
    const chart = echarts.init(ref.current, null, { renderer: "svg" });
    chart.setOption(buildOption() as any);
    return () => chart.dispose();
  }, []);
  return <div ref={ref} style={{ position: "absolute", left: 0, top: 0, width: 1250, height: 690, background: "#FFFFFF" }} />;
}
